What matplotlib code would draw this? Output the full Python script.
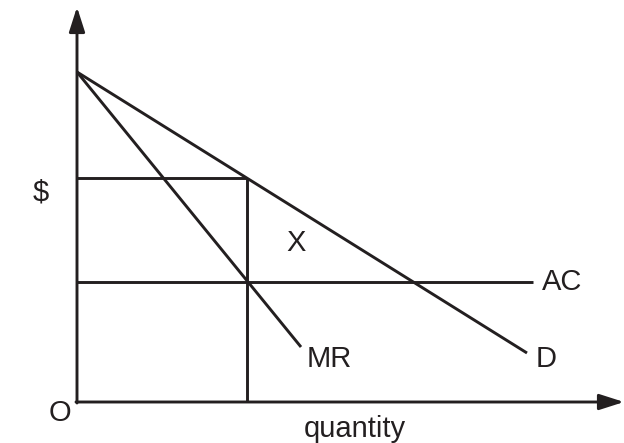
import matplotlib
matplotlib.use('Agg')
import matplotlib.pyplot as plt

# monopoly diagram, units
p_max = 33.0        # where D and MR start on the $ axis
q_star = 17.0       # quantity where MR meets AC
p_star = 22.4       # price on D at q_star
ac = 12.0           # average cost
d_end = (45.0, 4.9)
mr_end = (22.4, 5.5)
ac_end = 45.6
q_axis_max = 54.7
p_axis_max = 39.5

cor = '#231f20'
plt.rcParams['font.family'] = ['Liberation Sans', 'DejaVu Sans']

fig = plt.figure(figsize=(6.24, 4.43), dpi=100)
ax = fig.add_axes([0, 0, 1, 1])
ax.set_xlim(-7.7, 54.7)
ax.set_ylim(-4.1, 40.2)
ax.axis('off')

lw = 2.1
# curvas
ax.plot([0, d_end[0]], [p_max, d_end[1]], color=cor, lw=lw, solid_capstyle='butt')
ax.plot([0, mr_end[0]], [p_max, mr_end[1]], color=cor, lw=lw, solid_capstyle='butt')
ax.plot([0, ac_end], [ac, ac], color=cor, lw=lw, solid_capstyle='butt')
ax.plot([0, q_star], [p_star, p_star], color=cor, lw=lw, solid_capstyle='butt')
ax.plot([q_star, q_star], [0, p_star], color=cor, lw=lw, solid_capstyle='butt')

# eixos com setas
seta = dict(arrowstyle='-|>,head_length=0.75,head_width=0.24', lw=lw,
            color=cor, mutation_scale=20, shrinkA=0, shrinkB=0)
ax.annotate('', xy=(0, p_axis_max), xytext=(0, -0.1), arrowprops=seta)
ax.annotate('', xy=(q_axis_max, 0), xytext=(-0.1, 0), arrowprops=seta)

fs = 21
ax.text(-3.6, 21.0, '$', fontsize=fs, color=cor, ha='center', va='center')
ax.text(21.9, 15.9, 'X', fontsize=fs, color=cor, ha='center', va='center')
ax.text(ac_end + 0.9, ac, 'AC', fontsize=fs, color=cor, ha='left', va='center')
ax.text(mr_end[0] + 0.6, 4.3, 'MR', fontsize=fs, color=cor, ha='left', va='center')
ax.text(d_end[0] + 0.9, 4.3, 'D', fontsize=fs, color=cor, ha='left', va='center')
ax.text(-1.7, -1.1, 'O', fontsize=fs, color=cor, ha='center', va='center')
ax.text(27.8, -2.7, 'quantity', fontsize=fs, color=cor, ha='center', va='center')

fig.savefig('out.png', dpi=100)
